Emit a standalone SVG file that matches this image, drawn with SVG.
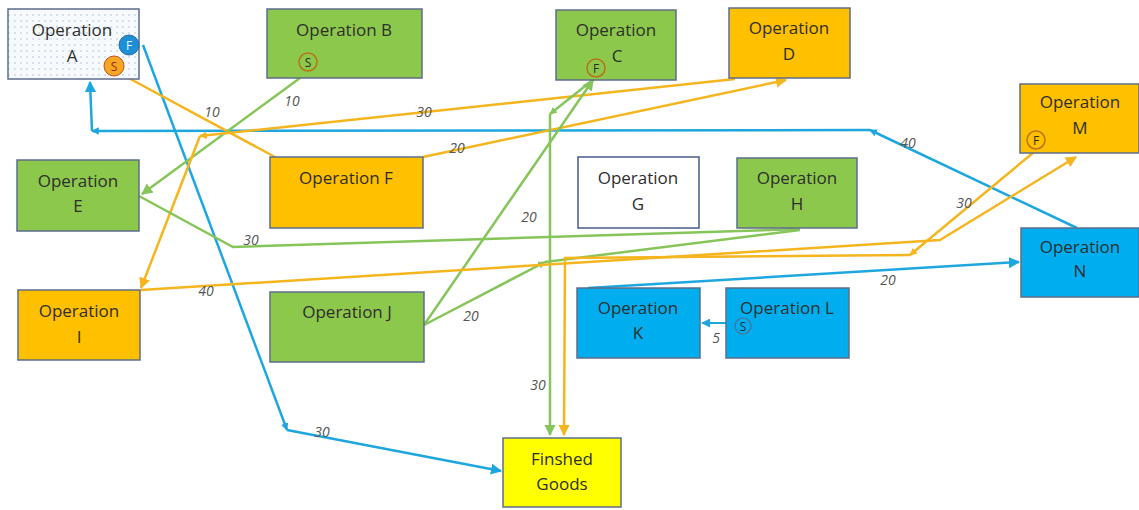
<svg xmlns="http://www.w3.org/2000/svg" width="1139" height="510" viewBox="0 0 1139 510">
<defs>
<pattern id="dots" width="6" height="6" patternUnits="userSpaceOnUse">
<rect width="6" height="6" fill="#f7fafd"/>
<circle cx="3" cy="3" r="0.7" fill="#9fb3cc"/>
</pattern>
<marker id="ab" viewBox="0 0 10 10" refX="9" refY="5" markerWidth="4.5" markerHeight="4.5" orient="auto" markerUnits="strokeWidth"><path d="M0,0L10,5L0,10z" fill="#1ea7df"/></marker>
<marker id="ao" viewBox="0 0 10 10" refX="9" refY="5" markerWidth="4.5" markerHeight="4.5" orient="auto" markerUnits="strokeWidth"><path d="M0,0L10,5L0,10z" fill="#f5b51e"/></marker>
<marker id="ag" viewBox="0 0 10 10" refX="9" refY="5" markerWidth="4.5" markerHeight="4.5" orient="auto" markerUnits="strokeWidth"><path d="M0,0L10,5L0,10z" fill="#86c55a"/></marker>
<marker id="sb" viewBox="0 0 10 10" refX="9" refY="5" markerWidth="3" markerHeight="3" orient="auto" markerUnits="strokeWidth"><path d="M0,0L10,5L0,10z" fill="#1ea7df"/></marker>
<marker id="so" viewBox="0 0 10 10" refX="9" refY="5" markerWidth="3" markerHeight="3" orient="auto" markerUnits="strokeWidth"><path d="M0,0L10,5L0,10z" fill="#f5b51e"/></marker>
<marker id="sg" viewBox="0 0 10 10" refX="9" refY="5" markerWidth="3" markerHeight="3" orient="auto" markerUnits="strokeWidth"><path d="M0,0L10,5L0,10z" fill="#86c55a"/></marker>
</defs>
<style>
.box{stroke:#5d6d8a;stroke-width:1.5}
.g{fill:#8cc84b}.o{fill:#ffc000}.b{fill:#00aeef}.y{fill:#ffff00}.w{fill:#ffffff}
text{font-family:"Open Sans","Liberation Sans",sans-serif;font-size:17px;fill:#2e2e2e;text-anchor:middle}
.lbl{font-size:14px;font-style:italic;fill:#555}
.cb{stroke:#1ea7df;stroke-width:2.5;fill:none}
.co{stroke:#f5b51e;stroke-width:2.5;fill:none}
.cg{stroke:#86c55a;stroke-width:2.5;fill:none}
.ring{fill:none;stroke:#b8741a;stroke-width:1.5}
.ct{font-size:12px}
</style>
<g id="connectors">
<polyline class="cb" points="143,45 287,430" marker-end="url(#sb)"/>
<polyline class="cb" points="287,430 501,471" marker-end="url(#ab)"/>
<polyline class="cb" points="1077,228 870,130" marker-end="url(#sb)"/>
<polyline class="cb" points="870,130 92,131" marker-end="url(#sb)"/>
<polyline class="cb" points="92,131 90,82" marker-end="url(#ab)"/>
<polyline class="cb" points="588,288 1019,262" marker-end="url(#ab)"/>
<polyline class="cb" points="735,323 702,323" marker-end="url(#ab)" style="stroke-width:2"/>
<polyline class="co" points="123,75 275,157"/>
<polyline class="cg" points="300,78 142,194" marker-end="url(#ag)"/>
<polyline class="co" points="735,79 200,136" marker-end="url(#so)"/>
<polyline class="co" points="200,136 141,288" marker-end="url(#ao)"/>
<polyline class="co" points="423,157 786,80" marker-end="url(#ao)"/>
<polyline class="cg" points="424,325 593,80" marker-end="url(#ag)"/>
<polyline class="cg" points="594,79 550,114" marker-end="url(#sg)"/>
<polyline class="cg" points="550,114 550,435" marker-end="url(#ag)"/>
<polyline class="cg" points="424,325 545,262" marker-end="url(#sg)"/>
<polyline class="cg" points="545,262 800,230"/>
<polyline class="cg" points="139,196 233,247 800,229"/>
<polyline class="co" points="141,290 940,240 1076,157" marker-end="url(#ao)"/>
<polyline class="co" points="1034,152 910,255" marker-end="url(#so)"/>
<polyline class="co" points="910,255 565,258 564,435" marker-end="url(#ao)"/>
<text class="lbl" x="322" y="437">30</text>
<text class="lbl" x="908" y="148">40</text>
<text class="lbl" x="888" y="285">20</text>
<text class="lbl" x="716" y="343">5</text>
<text class="lbl" x="212" y="117">10</text>
<text class="lbl" x="292" y="106">10</text>
<text class="lbl" x="424" y="117">30</text>
<text class="lbl" x="457" y="153">20</text>
<text class="lbl" x="529" y="222">20</text>
<text class="lbl" x="538" y="390">30</text>
<text class="lbl" x="471" y="321">20</text>
<text class="lbl" x="251" y="245">30</text>
<text class="lbl" x="206" y="296">40</text>
<text class="lbl" x="964" y="208">30</text>
</g>
<g id="nodeA"><rect class="box" x="8" y="9" width="131" height="70" fill="url(#dots)"/><text x="72" y="36">Operation</text><text x="72" y="62">A</text>
<circle cx="129" cy="45" r="10" fill="#1e8fd6" stroke="#2a6aa8" stroke-width="1"/><text class="ct" x="129" y="49.5" style="fill:#dff">F</text>
<circle cx="114" cy="66" r="10" fill="#f5a623" stroke="#c0501e" stroke-width="1"/><text class="ct" x="114" y="70.5" style="fill:#a02a10">S</text></g>
<g id="nodeB"><rect class="box g" x="267" y="9" width="155" height="69"/><text x="344" y="36">Operation B</text><circle class="ring" cx="308" cy="62" r="9"/><text class="ct" x="308" y="66.5">S</text></g>
<g id="nodeC"><rect class="box g" x="556" y="10" width="120" height="70"/><text x="616" y="36">Operation</text><text x="617" y="62">C</text><circle class="ring" cx="596" cy="68" r="9"/><text class="ct" x="596" y="72.5">F</text></g>
<g id="nodeD"><rect class="box o" x="729" y="8" width="121" height="70"/><text x="789" y="34">Operation</text><text x="789" y="60">D</text></g>
<g id="nodeM"><rect class="box o" x="1020" y="84" width="119" height="69"/><text x="1080" y="108">Operation</text><text x="1080" y="134">M</text><circle class="ring" cx="1036" cy="140" r="9"/><text class="ct" x="1036" y="144.5">F</text></g>
<g id="nodeE"><rect class="box g" x="17" y="160" width="122" height="71"/><text x="78" y="187">Operation</text><text x="78" y="212">E</text></g>
<g id="nodeF"><rect class="box o" x="270" y="157" width="153" height="71"/><text x="346" y="184">Operation F</text></g>
<g id="nodeG"><rect class="box w" x="578" y="157" width="121" height="71" style="stroke:#4a5a8a"/><text x="638" y="184">Operation</text><text x="638" y="210">G</text></g>
<g id="nodeH"><rect class="box g" x="737" y="158" width="120" height="70"/><text x="797" y="184">Operation</text><text x="797" y="210">H</text></g>
<g id="nodeN"><rect class="box b" x="1021" y="228" width="118" height="69"/><text x="1080" y="253">Operation</text><text x="1080" y="277">N</text></g>
<g id="nodeI"><rect class="box o" x="18" y="290" width="122" height="70"/><text x="79" y="317">Operation</text><text x="79" y="343">I</text></g>
<g id="nodeJ"><rect class="box g" x="270" y="292" width="154" height="70"/><text x="347" y="318">Operation J</text></g>
<g id="nodeK"><rect class="box b" x="577" y="288" width="123" height="70"/><text x="638" y="314">Operation</text><text x="638" y="339">K</text></g>
<g id="nodeL"><rect class="box b" x="726" y="288" width="123" height="70"/><text x="787" y="314">Operation L</text><circle cx="743" cy="326" r="8" fill="none" stroke="#5a6a8a" stroke-width="1.2"/><text class="ct" x="743" y="330.5">S</text></g>
<g id="nodeFG"><rect class="box y" x="503" y="438" width="118" height="69"/><text x="562" y="465">Finshed</text><text x="562" y="490">Goods</text></g>
</svg>
